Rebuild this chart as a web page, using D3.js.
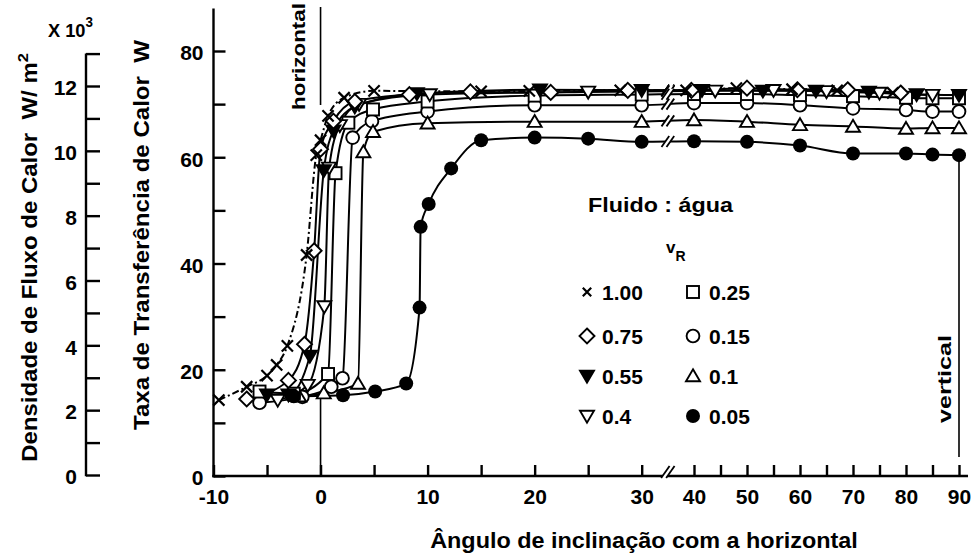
<!DOCTYPE html>
<html>
<head>
<meta charset="utf-8">
<script src="https://cdn.jsdelivr.net/npm/d3@7"></script>
<style>
  html, body { margin: 0; padding: 0; background: #fff; }
  svg { display: block; }
</style>
</head>
<body>
<svg id="chart" width="976" height="560"></svg>
<script>
// ---- axis ticks and labels ----
const angleTicks  = [-10, -5, 0, 5, 10, 15, 20, 25, 30, 40, 45, 50, 55, 60, 65, 70, 75, 80, 85, 90];
const angleLabels = [-10, 0, 10, 20, 30, 40, 50, 60, 70, 80, 90];
const rateTicks   = [0, 10, 20, 30, 40, 50, 60, 70, 80];
const rateLabels  = [0, 20, 40, 60, 80];
const fluxTicks   = [0, 1, 2, 3, 4, 5, 6, 7, 8, 9, 10, 11, 12, 13];
const fluxLabels  = [0, 2, 4, 6, 8, 10, 12];

// ---- heat transfer rate (W) vs inclination angle (deg), one array per v_R ----
const vr100 = [[-9.5,14.3],[-6.9,16.8],[-5.0,18.9],[-4.1,20.9],[-3.1,24.5],[-1.3,41.6],[-0.4,60.4],[0,63.2],[0.7,67.8],[2.2,71.2],[5,72.5],[15,72.4],[19.5,72.5],[28,72.6],[38.5,72.6],[48,73],[58.5,72.8],[67,72.6],[77.5,72.1]];
const vr075 = [[-6.9,14.5],[-3.0,18.0],[-1.5,24.8],[-0.6,42.4],[0,61.5],[1.2,66.8],[3.2,70.5],[8.3,71.8],[14,72.3],[21.5,72.2],[28.7,72.6],[39.5,72.6],[50,73],[59.5,72.7],[69,72.7],[79,72.1]];
const vr055 = [[-5,15.3],[-3,15.3],[-1.0,22.6],[0.3,57.5],[1.2,65],[3.2,69.5],[9,72],[20.5,72.7],[30,72.6],[41.5,72.6],[53,72.5],[63,72.5],[73,72.3],[82,71.8],[90,71.7]];
const vr040 = [[-4,14.3],[-1.2,17.1],[0.35,31.9],[0.8,58],[1.8,66],[3.6,70],[10.2,71.8],[25,72.3],[44,72.5],[55,72.6],[65,72.4],[75,72.1],[85,71.7]];
const vr025 = [[-5.7,15.9],[-2.5,15.5],[0.7,19.2],[1.4,57],[2.6,66.5],[4.9,69],[10,70.5],[20,71.6],[30,71.8],[40,71.9],[50,71.9],[60,71.7],[70,71.5],[80,71.2],[85,71.1],[90,71.1]];
const vr015 = [[-5.7,13.8],[-1.7,14.9],[1,16.8],[2.05,18.4],[3.0,63.7],[4.8,66.8],[10,68.6],[20,69.8],[30,69.8],[40,70.2],[50,70.2],[60,69.8],[70,69.2],[80,68.9],[85,68.6],[90,68.6]];
const vr010 = [[-2,15],[0.3,15.6],[3.5,17.4],[4,61],[4.9,64.8],[10,66.4],[20,66.7],[30,66.7],[40,67],[50,66.7],[60,66.1],[70,65.8],[80,65.4],[85,65.5],[90,65.5]];
const vr005 = [[-2.5,15],[2.1,15.2],[5.1,15.9],[8.0,17.4],[9.25,31.7],[9.35,46.9],[10.1,51.2],[12.2,57.9],[15,63.2],[20,63.7],[25,63.5],[30,62.9],[40,63],[50,62.9],[60,62.2],[70,60.7],[80,60.7],[85,60.5],[90,60.4]];

const vrLabels = ["1.00", "0.75", "0.55", "0.4", "0.25", "0.15", "0.1", "0.05"];
const vrShapes = ["cross", "diamond", "triDownFilled", "triDown", "square", "circle", "triUp", "dot"];
const vrData   = [vr100, vr075, vr055, vr040, vr025, vr015, vr010, vr005];

const series = vrLabels.map((label, i) => ({ label, shape: vrShapes[i], pts: vrData[i] }));

// ---- drawing ----
const FONT = '"Liberation Sans", Arial, Helvetica, sans-serif';
const svg = d3.select("#chart").attr("font-family", FONT);

// broken angle axis: -10..30 on a wide scale, 40..90 compressed
const x  = d3.scaleLinear().domain([-10, 30, 40, 90]).range([213.5, 641.7, 694, 959]);
const y  = d3.scaleLinear().domain([0, 80]).range([476, 51]);
const yF = d3.scaleLinear().domain([0, 12]).range([475, 86]);
const BREAK = 35;

function styleAxis(g) {
  g.attr("font-family", FONT).attr("font-size", 21).attr("font-weight", "bold");
  g.selectAll(".tick line").attr("stroke", "#000").attr("stroke-width", 2.4);
  g.selectAll(".tick text").attr("fill", "#000");
}

// heat-transfer-rate axis
const gy = svg.append("g").attr("transform", `translate(${x(-10)},0)`)
  .call(d3.axisLeft(y).tickValues(rateTicks).tickSizeInner(-12).tickSizeOuter(0).tickPadding(10)
        .tickFormat(d => rateLabels.includes(d) ? d : ""));
gy.select(".domain").remove();
styleAxis(gy);
gy.selectAll(".tick text").attr("dy", "0.42em");
svg.append("line").attr("x1", x(-10)).attr("x2", x(-10)).attr("y1", y(0) + 1.2).attr("y2", y(88))
  .attr("stroke", "#000").attr("stroke-width", 2.4);

// heat-flux-density axis
const gf = svg.append("g").attr("transform", "translate(86,0)")
  .call(d3.axisLeft(yF).tickValues(fluxTicks).tickSizeInner(-14).tickSizeOuter(0).tickPadding(9)
        .tickFormat(d => fluxLabels.includes(d) ? d : ""));
gf.select(".domain").remove();
styleAxis(gf);
gf.selectAll(".tick text").attr("dy", "0.42em");
svg.append("line").attr("x1", 86).attr("x2", 86).attr("y1", yF(0) + 1.2).attr("y2", yF(13))
  .attr("stroke", "#000").attr("stroke-width", 2.4);

// angle axis
const gx = svg.append("g").attr("transform", `translate(0,${y(0)})`)
  .call(d3.axisBottom(x).tickValues(angleTicks).tickSizeInner(-11).tickSizeOuter(0).tickPadding(13)
        .tickFormat(d => angleLabels.includes(d) ? d : ""));
gx.select(".domain").remove();
styleAxis(gx);
svg.append("line").attr("x1", x(-10) - 1.2).attr("x2", x(91.7)).attr("y1", y(0)).attr("y2", y(0))
  .attr("stroke", "#000").attr("stroke-width", 2.4);

// break symbol
function breakMark(cx, cy, h, gap) {
  const g = svg.append("g");
  const dx = h * 0.35;
  g.append("path")
    .attr("d", `M${cx - gap / 2 - dx},${cy + h / 2} L${cx - gap / 2 + dx},${cy - h / 2} L${cx + gap / 2 + dx},${cy - h / 2} L${cx + gap / 2 - dx},${cy + h / 2} Z`)
    .attr("fill", "#fff");
  [-gap / 2, gap / 2].forEach(o => {
    g.append("line")
      .attr("x1", cx + o - dx).attr("y1", cy + h / 2)
      .attr("x2", cx + o + dx).attr("y2", cy - h / 2)
      .attr("stroke", "#000").attr("stroke-width", 1.8);
  });
}
breakMark(x(BREAK), y(0) - 4, 12, 5);

// reference lines for horizontal (0) and vertical (90)
const refStyle = s => s.attr("stroke", "#000").attr("stroke-width", 1.6);
svg.append("line").attr("x1", x(0)).attr("x2", x(0)).attr("y1", 7).attr("y2", 105).call(refStyle);
svg.append("line").attr("x1", x(0)).attr("x2", x(0)).attr("y1", 392).attr("y2", y(0)).call(refStyle);
svg.append("line").attr("x1", x(90)).attr("x2", x(90)).attr("y1", 162).attr("y2", 457).call(refStyle);

// curves
const line = d3.line().x(d => x(d[0])).y(d => y(d[1])).curve(d3.curveMonotoneX);
series.forEach(s => {
  svg.append("path").attr("d", line(s.pts)).attr("fill", "none")
    .attr("stroke", "#000").attr("stroke-width", 2)
    .attr("stroke-dasharray", s.shape === "cross" ? "7,3,2,3" : null);
});

// break marks on each curve where it crosses the axis gap
series.forEach(s => {
  const a = s.pts.filter(p => p[0] <= BREAK).pop();
  const b = s.pts.find(p => p[0] > BREAK);
  if (!a || !b) return;
  const v = a[1] + (b[1] - a[1]) * (BREAK - a[0]) / (b[0] - a[0]);
  breakMark(x(BREAK), y(v), 11, 5);
});

// markers
function marker(g, shape, cx, cy, k = 1) {
  const sw = 1.9;
  switch (shape) {
    case "cross": {
      const s = 5.6 * k;
      g.append("path").attr("d", `M${cx - s},${cy - s}L${cx + s},${cy + s}M${cx - s},${cy + s}L${cx + s},${cy - s}`)
        .attr("stroke", "#000").attr("stroke-width", 2.2).attr("fill", "none");
      break;
    }
    case "diamond": {
      const s = 7.5 * k;
      g.append("path").attr("d", `M${cx},${cy - s}L${cx + s},${cy}L${cx},${cy + s}L${cx - s},${cy}Z`)
        .attr("stroke", "#000").attr("stroke-width", sw).attr("fill", "#fff");
      break;
    }
    case "triDownFilled":
    case "triDown": {
      const s = 7 * k;
      g.append("path").attr("d", `M${cx - s},${cy - s * 0.75}L${cx + s},${cy - s * 0.75}L${cx},${cy + s * 0.95}Z`)
        .attr("stroke", "#000").attr("stroke-width", sw).attr("stroke-linejoin", "miter")
        .attr("fill", shape === "triDownFilled" ? "#000" : "#fff");
      break;
    }
    case "triUp": {
      const s = 7 * k;
      g.append("path").attr("d", `M${cx},${cy - s * 0.95}L${cx + s},${cy + s * 0.75}L${cx - s},${cy + s * 0.75}Z`)
        .attr("stroke", "#000").attr("stroke-width", sw).attr("fill", "#fff");
      break;
    }
    case "square": {
      const s = 6 * k;
      g.append("rect").attr("x", cx - s).attr("y", cy - s).attr("width", 2 * s).attr("height", 2 * s)
        .attr("stroke", "#000").attr("stroke-width", sw).attr("fill", "#fff");
      break;
    }
    case "circle":
      g.append("circle").attr("cx", cx).attr("cy", cy).attr("r", 6.4 * k)
        .attr("stroke", "#000").attr("stroke-width", sw).attr("fill", "#fff");
      break;
    case "dot":
      g.append("circle").attr("cx", cx).attr("cy", cy).attr("r", 7 * k).attr("fill", "#000");
      break;
  }
}

const drawOrder = [5, 6, 4, 3, 2, 1, 0, 7];
drawOrder.forEach(i => {
  const s = series[i];
  const g = svg.append("g");
  s.pts.forEach(p => marker(g, s.shape, x(p[0]), y(p[1])));
});

// text helper: places text and stretches it along its own direction to a given length
function label(opts) {
  const t = svg.append("text")
    .attr("font-size", opts.size).attr("font-weight", opts.weight || "bold")
    .attr("text-anchor", opts.anchor || "middle").attr("fill", "#000");
  opts.build ? opts.build(t) : t.text(opts.text);
  let k = 1;
  if (opts.len) k = opts.len / t.node().getComputedTextLength();
  t.attr("transform", `translate(${opts.x},${opts.y}) rotate(${opts.rot || 0}) scale(${k},1)`);
  return t;
}

// axis titles
label({ x: 149, y: 235, rot: -90, size: 22, len: 390, text: "Taxa de Transferência de Calor\u00a0\u00a0W" });
label({
  x: 37, y: 257.5, rot: -90, size: 22, len: 409,
  build: t => {
    t.append("tspan").text("Densidade de Fluxo de Calor\u00a0\u00a0W/ m");
    t.append("tspan").attr("dy", -9).attr("font-size", 15).text("2");
  }
});
label({
  x: 48, y: 37, size: 19, weight: "bold", anchor: "start", len: 45,
  build: t => {
    t.append("tspan").text("X 10");
    t.append("tspan").attr("dy", -10).attr("font-size", 14).text("3");
  }
});
label({ x: 644, y: 548, size: 22, len: 428, text: "Ângulo de inclinação com a horizontal" });
label({ x: 305, y: 56.5, rot: -90, size: 18, weight: "bold", len: 107, text: "horizontal" });
label({ x: 951, y: 379, rot: -90, size: 18, weight: "bold", len: 88, text: "vertical" });

// legend
label({ x: 660.5, y: 212, size: 21, len: 145, text: "Fluido : água" });
label({
  x: 666, y: 253, size: 17, anchor: "start",
  build: t => {
    t.append("tspan").text("v");
    t.append("tspan").attr("dy", 8).attr("font-size", 14).text("R");
  }
});

const legendCols = [{ sx: 587, tx: 602 }, { sx: 693, tx: 709 }];
const legendRows = [296, 340, 380, 420];
// left column: 1.00, 0.75, 0.55, 0.4 ; right column: 0.25, 0.15, 0.1, 0.05
series.forEach((s, i) => {
  const col = legendCols[i < 4 ? 0 : 1];
  const row = legendRows[i % 4];
  const g = svg.append("g");
  marker(g, s.shape, col.sx, row - 4, s.shape === "cross" ? 0.75 : 1.0);
  label({ x: col.tx, y: row + 4, size: 21, anchor: "start", text: s.label });
});
</script>
</body>
</html>
